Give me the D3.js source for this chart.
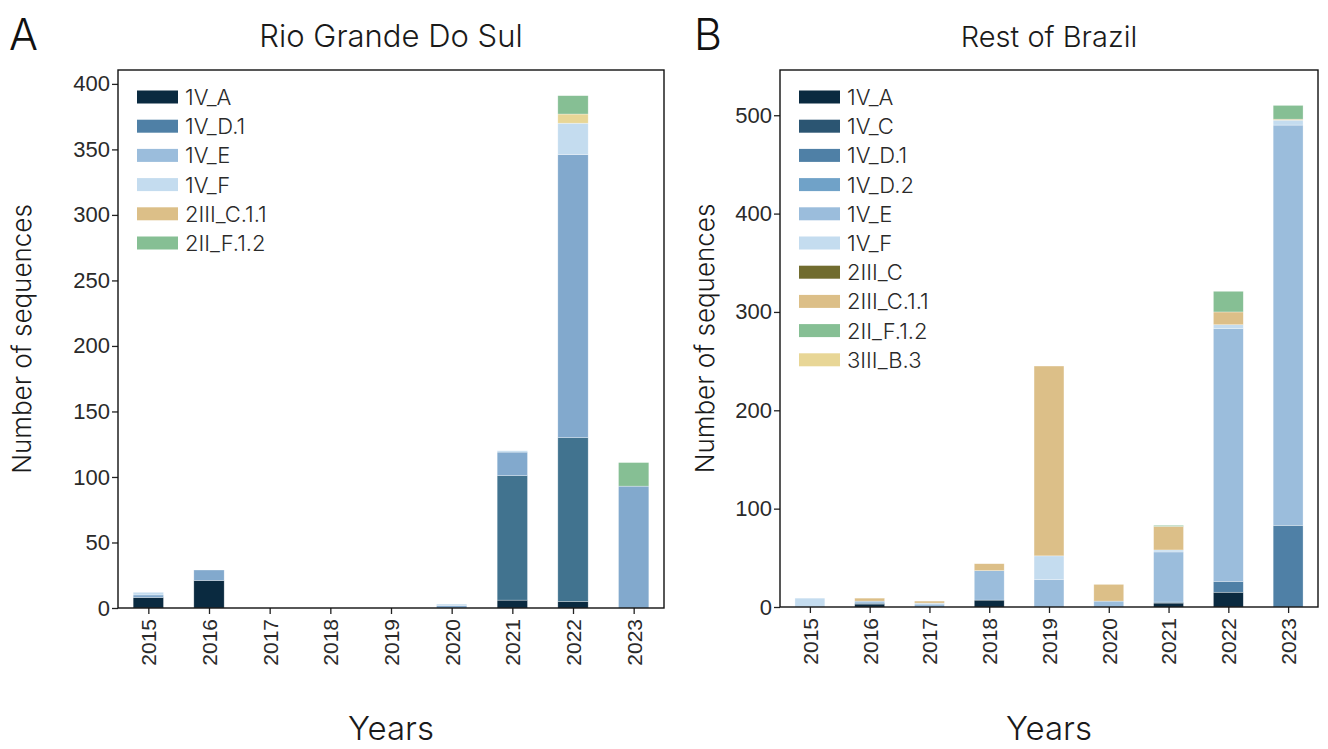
<!DOCTYPE html>
<html><head><meta charset="utf-8">
<script src="https://cdn.jsdelivr.net/npm/d3@7"></script>
<style>
body{margin:0;background:#fff;}
svg{font-family:"Inter","Helvetica Neue",sans-serif;font-weight:300;}
</style></head>
<body><svg id="c" width="1328" height="749"></svg>
<script>
const years = ["2015","2016","2017","2018","2019","2020","2021","2022","2023"];
const lineages = ["1V_A","1V_C","1V_D.1","1V_D.2","1V_E","1V_F","2III_C","2III_C.1.1","2II_F.1.2","3III_B.3"];
const colors = {"1V_A":"#0a2a40","1V_C":"#2b5572","1V_D.1":"#4f80a6","1V_D.2":"#70a2c8","1V_E":"#9bbddc","1V_F":"#c4dcef","2III_C":"#716c2f","2III_C.1.1":"#dcbf88","2II_F.1.2":"#86bf94","3III_B.3":"#e8d696"};
const barColorsA = {"1V_A":"#0a2a40","1V_D.1":"#41738f","1V_E":"#82a9cd","1V_F":"#c4dcef","2II_F.1.2":"#86bf94","3III_B.3":"#e8d696","2III_C.1.1":"#dcbf88"};

// Panel A: Rio Grande Do Sul
const legendA = ["1V_A","1V_D.1","1V_E","1V_F","2III_C.1.1","2II_F.1.2"];
const rgs_1V_A      = [8,21,0,0,0,0,6,5,0];
const rgs_1V_D1     = [0,0,0,0,0,0,95,125,0];
const rgs_1V_E      = [2,8,0,0,0,2,18,216,93];
const rgs_1V_F      = [2,0,0,0,0,1,1,24,0];
const rgs_3III_B3   = [0,0,0,0,0,0,0,7,0];
const rgs_2II_F12   = [0,0,0,0,0,0,0,14,18];

// Panel B: Rest of Brazil
const legendB = ["1V_A","1V_C","1V_D.1","1V_D.2","1V_E","1V_F","2III_C","2III_C.1.1","2II_F.1.2","3III_B.3"];
const br_1V_A      = [0,3,0,7,0,0,4,15,0];
const br_1V_D1     = [0,1,0,0,0,0,1,11,83];
const br_1V_E      = [0,2,3,30,28,6,51,257,407];
const br_1V_F      = [9,0,1,0,24,0,2,4,5];
const br_2III_C11  = [0,3,2,7,193,17,24,13,1];
const br_2II_F12   = [0,0,0,0,0,0,1,21,14];

const seriesA = [["1V_A",rgs_1V_A],["1V_D.1",rgs_1V_D1],["1V_E",rgs_1V_E],["1V_F",rgs_1V_F],["3III_B.3",rgs_3III_B3],["2II_F.1.2",rgs_2II_F12]];
const seriesB = [["1V_A",br_1V_A],["1V_D.1",br_1V_D1],["1V_E",br_1V_E],["1V_F",br_1V_F],["2III_C.1.1",br_2III_C11],["2II_F.1.2",br_2II_F12]];
const yTicksA = [0,50,100,150,200,250,300,350,400];
const yTicksB = [0,100,200,300,400,500];
const yMaxA = 410.6, yMaxB = 546;

const svg = d3.select("#c");

function panel(opt){
  const {x0,x1,y0,y1,series,legend,yTicks,yMax,title,letter,letterX,barColors,ylabX,titleSize} = opt;
  const g = svg.append("g");
  const x = d3.scaleLinear().domain([-0.5, years.length-0.5]).range([x0,x1]);
  const y = d3.scaleLinear().domain([0,yMax]).range([y1,y0]);
  const rows = years.map((yr,i)=>{const o={year:yr,i:i}; series.forEach(([k,v])=>o[k]=v[i]); return o;});
  const keys = series.map(s=>s[0]);
  const stack = d3.stack().keys(keys)(rows);
  const bw = x(0.25)-x(0);
  stack.forEach(layer=>{
    g.selectAll(null).data(layer.filter(d=>d[1]-d[0]>0)).enter().append("rect")
      .attr("x",d=>x(d.data.i)-bw).attr("width",bw*2)
      .attr("y",d=>y(d[1])).attr("height",d=>y(d[0])-y(d[1]))
      .attr("fill",(barColors||colors)[layer.key])
      .attr("stroke","#ffffff").attr("stroke-opacity",0.5).attr("stroke-width",0.6);
  });
  // axes
  const ya = g.append("g").attr("transform",`translate(${x0},0)`)
    .call(d3.axisLeft(y).tickValues(yTicks).tickSize(6).tickPadding(2));
  ya.select(".domain").remove();
  ya.selectAll("text").attr("font-size",22).attr("fill","#2a2a2a").attr("font-family","inherit");
  ya.selectAll("line").attr("stroke","#222").attr("stroke-width",1.3);
  const xa = g.append("g").attr("transform",`translate(0,${y1})`)
    .call(d3.axisBottom(x).tickValues(d3.range(years.length)).tickFormat(i=>years[i]).tickSize(6));
  xa.select(".domain").remove();
  xa.selectAll("line").attr("stroke","#222").attr("stroke-width",1.3);
  xa.selectAll("text").attr("font-size",21).attr("fill","#2a2a2a").attr("font-family","inherit")
    .attr("transform","rotate(-90)").attr("text-anchor","end").attr("dy","0.35em").attr("x",-11).attr("y",0);
  // frame
  g.append("rect").attr("x",x0).attr("y",y0).attr("width",x1-x0).attr("height",y1-y0)
    .attr("fill","none").attr("stroke","#111").attr("stroke-width",1.4);
  // labels
  g.append("text").attr("x",(x0+x1)/2).attr("y",47).attr("text-anchor","middle").attr("font-size",titleSize).attr("fill","#1a1a1a").text(title);
  g.append("text").attr("x",letterX).attr("y",50).attr("font-size",43).attr("fill","#111").text(letter);
  g.append("text").attr("transform",`translate(${ylabX},${(y0+y1)/2}) rotate(-90)`).attr("text-anchor","middle").attr("dy","0.35em").attr("font-size",26).attr("fill","#1a1a1a").text("Number of sequences");
  g.append("text").attr("x",(x0+x1)/2).attr("y",740).attr("text-anchor","middle").attr("font-size",33).attr("fill","#1a1a1a").text("Years");
  // legend
  const lg = g.append("g");
  legend.forEach((k,i)=>{
    const ly = 97 + i*29.2;
    lg.append("rect").attr("x",x0+19).attr("y",ly-6.5).attr("width",41).attr("height",13).attr("fill",colors[k]);
    lg.append("text").attr("x",x0+67).attr("y",ly).attr("dy","0.36em").attr("font-size",22).attr("fill","#2a2a2a").text(k);
  });
}

panel({x0:118,x1:664,y0:70,y1:608,series:seriesA,legend:legendA,yTicks:yTicksA,yMax:yMaxA,title:"Rio Grande Do Sul",letter:"A",letterX:9,barColors:barColorsA,ylabX:22,titleSize:31});
panel({x0:780,x1:1318,y0:70,y1:607,series:seriesB,legend:legendB,yTicks:yTicksB,yMax:yMaxB,title:"Rest of Brazil",letter:"B",letterX:694,ylabX:705,titleSize:29});
</script></body></html>
